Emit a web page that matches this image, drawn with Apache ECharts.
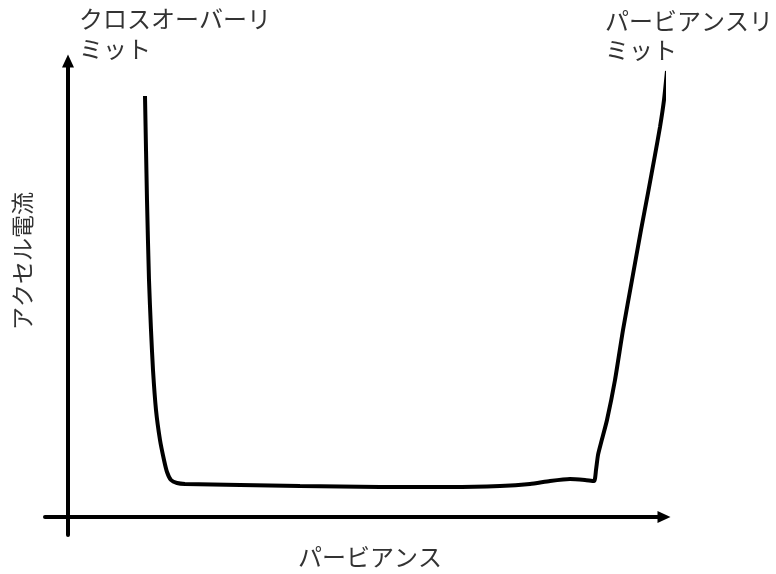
<!DOCTYPE html>
<html>
<head>
<meta charset="utf-8">
<script src="https://cdn.jsdelivr.net/npm/echarts@6/dist/echarts.min.js"></script>
<style>
  html, body { margin: 0; padding: 0; background: #fff; }
  #chart { width: 776px; height: 574px; }
</style>
</head>
<body>
<div id="chart"></div>
<script>
// perveance (x) vs accel current (y), arbitrary units
var perveance = [77, 79, 81, 83, 85, 88, 92, 96, 99, 103, 109, 117, 172, 232, 312, 382, 432, 462, 482, 502, 517, 526, 528, 530, 533, 539, 547, 555, 564, 573, 580, 587, 592, 596, 599];
var accelCurrent = [421, 317, 237, 187, 147, 107, 77, 57, 45, 37, 34, 33, 32, 31, 30, 30, 31, 33, 36, 38, 37, 36, 47, 62, 74, 97, 137, 187, 237, 287, 324, 362, 390, 417, 446];

var xAxisTitle = 'パービアンス';
var yAxisTitle = 'アクセル電流';
var leftNote = 'クロスオーバーリ\nミット';
var rightNote = 'パービアンスリ\nミット';

var font = '"Noto Sans CJK JP", "Noto Sans", sans-serif';

var chart = echarts.init(document.getElementById('chart'));

var points = perveance.map(function (x, i) { return [x, accelCurrent[i]]; });

var axisLine = {
    show: true,
    onZero: true,
    symbol: ['none', 'triangle'],
    symbolSize: [12, 13],
    lineStyle: { color: '#000', width: 4 }
};

var option = {
    animation: false,
    backgroundColor: '#fff',
    grid: { left: 45, right: 112, top: 61, bottom: 39 },
    xAxis: {
        type: 'value',
        min: -23,
        max: 596,
        axisLine: axisLine,
        axisTick: { show: false },
        axisLabel: { show: false },
        splitLine: { show: false }
    },
    yAxis: {
        type: 'value',
        min: -18,
        max: 456,
        axisLine: axisLine,
        axisTick: { show: false },
        axisLabel: { show: false },
        splitLine: { show: false }
    },
    series: [
        {
            type: 'line',
            data: points,
            smooth: 0.2,
            clip: false,
            showSymbol: false,
            lineStyle: { color: '#000', width: 4 }
        }
    ],
    graphic: [
        {
            type: 'text', left: 79, top: 4,
            style: { text: leftNote, font: '24px ' + font, fill: '#333', lineHeight: 30 }
        },
        {
            type: 'text', left: 605, top: 6,
            style: { text: rightNote, font: '24px ' + font, fill: '#333', lineHeight: 29 }
        },
        {
            type: 'text', x: 370, y: 557,
            style: { text: xAxisTitle, font: '24px ' + font, fill: '#333', align: 'center', verticalAlign: 'middle' }
        },
        {
            type: 'text', x: 22, y: 261, rotation: Math.PI / 2,
            style: { text: yAxisTitle, font: '23px ' + font, fill: '#333', align: 'center', verticalAlign: 'middle' }
        }
    ]
};

chart.setOption(option);
</script>
</body>
</html>
